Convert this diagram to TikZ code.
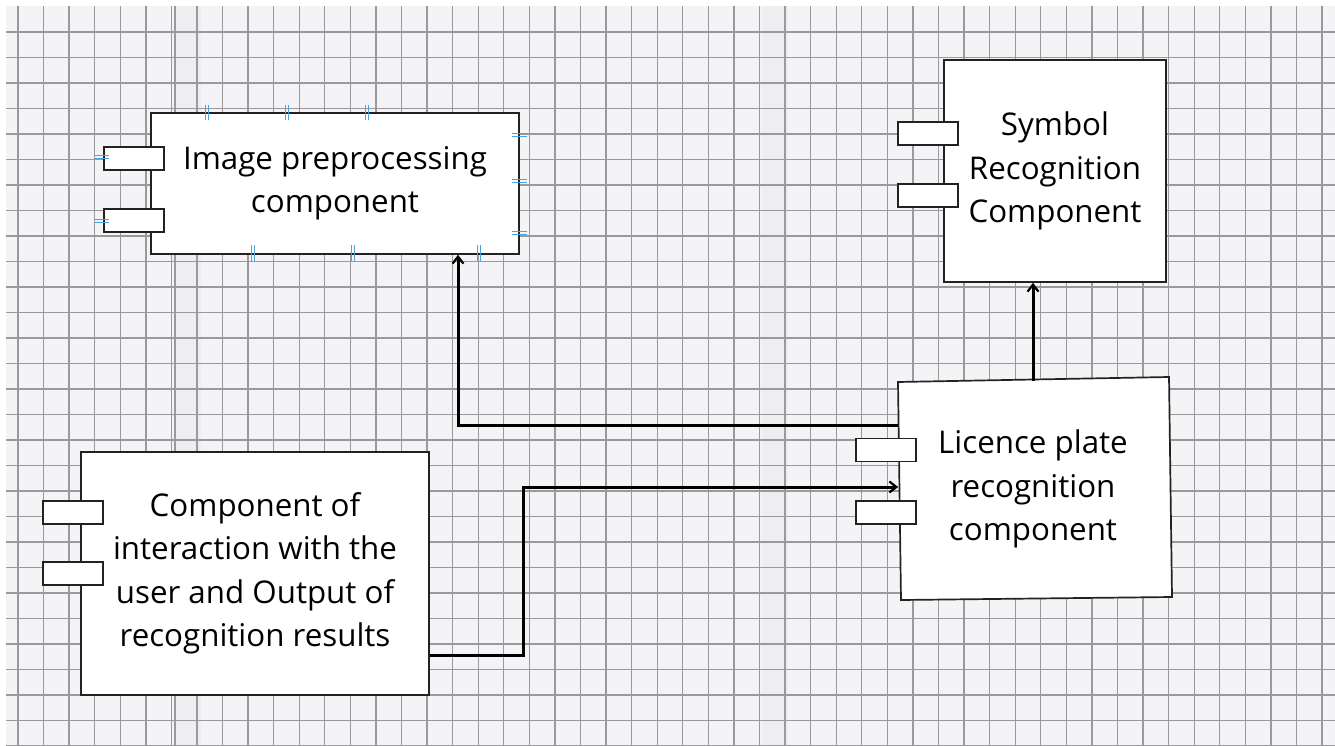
\documentclass[tikz,border=0pt]{standalone}
\usepackage{fontspec}
\setmainfont{Open Sans}
\usetikzlibrary{arrows.meta}
\definecolor{paper}{HTML}{F4F4F6}
\definecolor{band}{HTML}{EEEEF0}
\definecolor{gridc}{HTML}{9A9A9C}
\definecolor{edge}{HTML}{222222}
\definecolor{tickblue}{HTML}{4AA3DF}
\tikzset{
  gridline/.style={draw=gridc, line width=1.3pt},
  compbox/.style={draw=edge, fill=white, line width=1.7pt, align=center, inner sep=0pt,
    font=\fontsize{31.3}{43.5}\selectfont, text=black},
  port/.style={draw=edge, fill=white, line width=1.5pt, minimum width=60pt, minimum height=23pt, inner sep=0pt},
  conn/.style={draw=black, line width=3pt, -{Straight Barb[length=7pt,width=11pt,line width=2.2pt]}},
  tick/.style={draw=tickblue, line width=1.1pt}
}
\begin{document}
\begin{tikzpicture}[x=1pt,y=-1pt]
\useasboundingbox (0,0) rectangle (1335,746);
\fill[white] (0,0) rectangle (1335,746);
\fill[paper] (6,6.5) rectangle (1335,746);
\fill[band] (175,6.5) rectangle (201,746);
\fill[band] (762,6.5) rectangle (788,746);
\foreach \i in {0,...,51} \draw[gridline] ({18+25.57*\i},6.5) -- ({18+25.57*\i},746);
\draw[gridline] (175,6.5) -- (175,746);
\foreach \j in {1,...,29} \draw[gridline] (6,{6.5+25.5*\j}) -- (1335,{6.5+25.5*\j});

% boxes
\node[compbox, minimum width=368pt, minimum height=141pt] (img) at (335,183.5) {Image preprocessing\\component};
\node[compbox, minimum width=222pt, minimum height=222pt] (sym) at (1055,171) {Symbol\\Recognition\\Component};
\node[compbox, minimum width=348pt, minimum height=243pt] (inter) at (255,573.5) {Component of\\interaction with the\\user and Output of\\recognition results};
\fill[white, draw=edge, line width=1.7pt] (898,382) -- (1169,377) -- (1172,597) -- (901,600) -- cycle;
\node[compbox, draw=none, fill=none, minimum width=272pt, minimum height=219pt] (lic) at (1033,489) {Licence plate\\recognition\\component};

% ports
\node[port] (imgp1) at (134,158.5) {};
\node[port] (imgp2) at (134,220.5) {};
\node[port] (symp1) at (928,133.5) {};
\node[port] (symp2) at (928,195.5) {};
\node[port] (licp1) at (886,450) {};
\node[port] (licp2) at (886,512.5) {};
\node[port] (interp1) at (73,512.5) {};
\node[port] (interp2) at (73,573.5) {};

% blue handle ticks
\foreach \x in {207,287,367} {\draw[tick] (\x-1.5,105) -- (\x-1.5,120); \draw[tick] (\x+1.5,105) -- (\x+1.5,120);}
\foreach \x in {253,353,479} {\draw[tick] (\x-1.5,245) -- (\x-1.5,261); \draw[tick] (\x+1.5,245) -- (\x+1.5,261);}
\foreach \y in {135,181,233} {\draw[tick] (512,\y-1.5) -- (527,\y-1.5); \draw[tick] (512,\y+1.5) -- (527,\y+1.5);}
\foreach \y in {157,221} {\draw[tick] (95,\y-1.5) -- (109,\y-1.5); \draw[tick] (95,\y+1.5) -- (109,\y+1.5);}

% connectors
\draw[conn] ([xshift=2pt,yshift=64pt]lic.west) -| ([xshift=123pt]img.south);
\draw[conn] ([yshift=-81.5pt]inter.east) -- ++(94,0) |- ([xshift=2pt,yshift=2pt]lic.west);
\draw[conn] ([yshift=-2pt]lic.north) -- (lic.north |- sym.south);
\end{tikzpicture}
\end{document}
